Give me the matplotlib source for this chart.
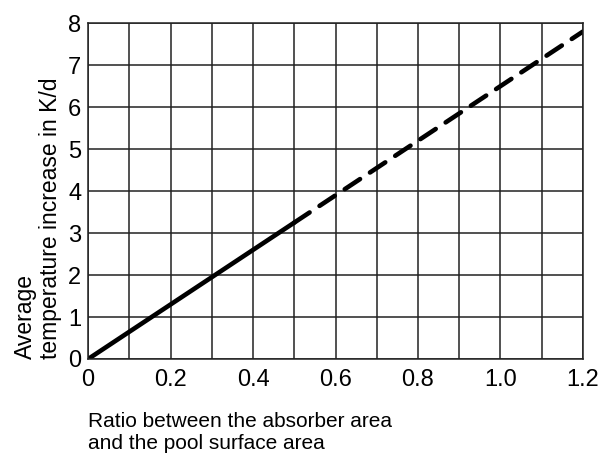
import matplotlib.pyplot as plt

# values
x_solid = [0.0, 0.5]
y_solid = [0.0, 3.25]
x_dashed = [0.5, 1.2]
y_dashed = [3.25, 7.8]

x_ticks = [0, 0.2, 0.4, 0.6, 0.8, 1.0, 1.2]
x_tick_labels = ["0", "0.2", "0.4", "0.6", "0.8", "1.0", "1.2"]
y_ticks = [0, 1, 2, 3, 4, 5, 6, 7, 8]


def main():
    plt.rcParams['font.family'] = ['Liberation Sans', 'DejaVu Sans']
    plt.rc('font', size=14.5)

    fig = plt.figure(figsize=(6.04, 4.55), dpi=100)
    ax = fig.add_axes([0.146, 0.211, 0.819, 0.738])

    ax.plot(x_solid, y_solid, color='black', linewidth=3.3, solid_capstyle='round')
    ax.plot(x_dashed, y_dashed, color='black', linewidth=3.3, linestyle=(0, (4, 2.6)),
            dash_capstyle='round')

    ax.set_xlim(0, 1.2)
    ax.set_ylim(0, 8)
    ax.set_xticks(x_ticks)
    ax.set_xticklabels(x_tick_labels)
    ax.set_yticks(y_ticks)
    ax.set_xticks([i / 10 for i in range(13)], minor=True)
    ax.grid(True, which='both', color='#222222', linewidth=1.1)
    ax.tick_params(which='both', length=0, labelsize=17)
    ax.tick_params(axis='x', pad=7)
    ax.tick_params(axis='y', pad=5)

    for s in ax.spines.values():
        s.set_color('#222222')
        s.set_linewidth(1.1)

    ax.set_xlabel("Ratio between the absorber area\nand the pool surface area",
                  loc='left', fontsize=15, labelpad=15, linespacing=1.2)
    ax.set_ylabel("Average\ntemperature increase in K/d", loc='bottom', fontsize=16.5,
                  labelpad=4, linespacing=1.15)

    fig.savefig("out.png", dpi=100)


if __name__ == '__main__':
    main()
